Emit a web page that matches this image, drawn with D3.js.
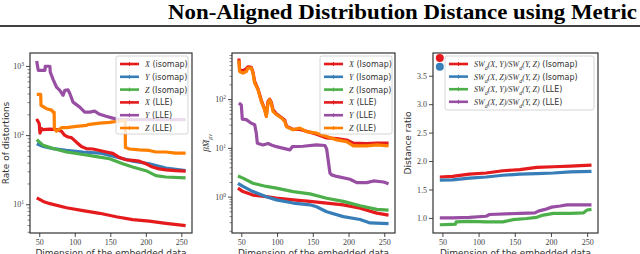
<!DOCTYPE html>
<html>
<head>
<meta charset="utf-8">
<script src="https://cdn.jsdelivr.net/npm/d3@7"></script>
<style>
  body { margin: 0; background: #fff; }
  svg { display: block; }
</style>
</head>
<body>
<svg width="640" height="254"></svg>
<script>
// colours (Set1)
const RED = '#e41a1c', BLUE = '#377eb8', GREEN = '#4daf4a', PURPLE = '#984ea3', ORANGE = '#ff7f00';

// panel 1 : rate of distortions  [dimension, value]
const p1XIsomap = [[46.5,12.4],[55.6,11.0],[65,10.2],[88.3,8.9],[111.5,8.1],[135,7.4],[158.3,6.6],[181.5,6.0],[204.8,5.7],[228.2,5.3],[256,4.9]];
const p1YIsomap = [[46.5,75],[55.6,68.5],[69.6,63.7],[88.3,60],[111.5,57],[135,55],[158.3,48.3],[181.5,42],[204.8,38.5],[228.2,33.3],[256,30.6]];
const p1ZIsomap = [[46.5,86],[55.6,71],[69.6,64],[88.3,57],[111.5,52.5],[135,48],[149,45.5],[167.5,38.5],[181.5,34.5],[200.2,30.6],[214.2,26],[228.2,24.8],[256,24]];
const p1XLle = [[46.5,160],[47.2,165],[50,146],[51,107],[53.4,124],[55.6,120],[65,122],[74.3,120],[81.3,114],[86,99],[90.6,94],[95.3,92],[102.3,79],[109.3,68.5],[116.3,63.7],[125.5,63],[135,60],[144.3,57],[153.5,54.4],[163,47.3],[172.2,44],[181.5,43],[190.8,42],[200.2,38.5],[209.4,34.5],[218.8,32.5],[228.2,31.5],[242,30.6],[256,30.2]];
const p1YLle = [[46.4,1181],[48.6,866],[58,866],[58.5,990],[65,990],[65.5,818],[69.6,635],[74.3,496],[79,445],[83.6,377],[86,445],[90.6,450],[93,400],[97.6,300],[107,254],[114,215],[121,215],[128,222],[135,200],[144,187],[153.5,176],[163,167],[205,167],[256,167]];
const p1ZLle = [[46.5,389],[52,389],[52.5,269],[60.3,241],[67.3,230],[69.6,215],[71,215],[71.3,124],[74.3,114],[81.3,128],[88.3,128],[102.3,134],[116.3,138],[118.5,142],[135,149],[149,153],[163,160],[171,163],[171.3,66],[177,63],[190.8,61],[204.8,60],[214.2,57],[228.2,57],[242,55],[256,55]];

// panel 2 : beta M_mu_nu
const p2XIsomap = [[45.3,1.5],[52.3,1.27],[66.3,1.08],[85,1.0],[99.1,0.93],[122.5,0.86],[146,0.80],[169.4,0.74],[192.7,0.68],[216.2,0.58],[239.6,0.46],[256,0.42]];
const p2YIsomap = [[45.3,1.88],[52.3,1.62],[66.3,1.27],[85,1.0],[99.1,0.86],[122.5,0.74],[146,0.68],[155.3,0.62],[169.4,0.49],[192.7,0.39],[216.2,0.34],[230.2,0.29],[256,0.28]];
const p2ZIsomap = [[45.3,2.66],[52.3,2.4],[66.3,1.88],[85,1.62],[99.1,1.5],[122.5,1.27],[146,1.14],[169.4,0.93],[192.7,0.80],[216.2,0.65],[239.6,0.55],[256,0.53]];
const p2XLle = [[46.7,680],[47.6,400],[52.3,380],[57,420],[59.3,460],[64,450],[66.3,360],[68.7,230],[73.4,160],[78,95],[82.7,62],[85,46],[87.4,90],[89.7,100],[92.1,85],[94.4,60],[99.1,50],[106.1,42],[110.8,37],[113.2,28],[122.5,24],[131.9,24],[141.2,22],[155.3,19],[169.4,16],[183.4,15.5],[197.4,14.5],[206.8,12.5],[225.5,12.3],[239.6,12.5],[256,12.5]];
const p2YLle = [[46.7,83],[50,76],[51.4,38.8],[57,38],[64,32],[68.7,30],[71,20],[72.4,12.5],[80.4,11.5],[87.4,12.3],[92.1,11.5],[99.1,10.6],[117.8,9.1],[121.6,10.6],[136.6,10.8],[155.3,11.5],[167,11.2],[169.4,9.5],[174,3.05],[176.4,2.8],[183.4,2.6],[202.1,2.28],[211.5,1.94],[225.5,1.94],[234.9,2.1],[249,2.0],[256,1.83]];
const p2ZLle = [[46.7,620],[47.6,369],[52.3,342],[57,369],[59.3,433],[64,433],[66.3,342],[68.7,213],[73.4,155],[78,89],[82.7,60],[85,44],[87.4,83],[89.7,97],[92.1,80],[94.4,56],[99.1,48],[106.1,41],[110.8,35],[113.2,27],[122.5,23.5],[131.9,25.4],[141.2,21.6],[155.3,20],[169.4,17.1],[183.4,14.6],[197.4,13.4],[206.8,11],[225.5,11],[239.6,11.5],[256,11]];

// panel 3 : distance ratio
const p3XYIsomap = [[46.4,1.72],[64,1.73],[87.2,1.77],[110.5,1.79],[133.7,1.83],[157,1.85],[180.3,1.89],[203.4,1.90],[226.7,1.91],[256,1.93]];
const p3XZIsomap = [[46.4,1.665],[64,1.67],[87.2,1.70],[110.5,1.72],[133.7,1.75],[157,1.77],[180.3,1.78],[203.4,1.79],[226.7,1.81],[256,1.82]];
const p3XYLle = [[46.4,0.88],[64,0.885],[68,0.89],[69,0.93],[87.2,0.94],[110.5,0.93],[133.7,0.93],[147.6,0.97],[166.3,0.99],[180.3,1.01],[189.5,1.05],[203.4,1.08],[226.7,1.08],[245,1.09],[250,1.14],[256,1.15]];
const p3XZLle = [[46.4,1.0],[64,1.0],[87.2,1.01],[110.5,1.03],[115,1.06],[157,1.08],[177.9,1.09],[182.5,1.12],[191.8,1.15],[201,1.19],[212.7,1.21],[222,1.23],[236,1.23],[256,1.23]];
const p3Outliers = [[46.4,3.81,RED],[46.4,3.66,BLUE]];

const xTicks = [50, 100, 150, 200, 250];
const p3YTicks = [1.0, 1.5, 2.0, 2.5, 3.0, 3.5];

const svg = d3.select('svg');
const serif = '"Liberation Serif", "DejaVu Serif", serif';
const sans = '"DejaVu Sans", sans-serif';

// header
svg.append('text')
  .attr('x', 637).attr('y', 19)
  .attr('text-anchor', 'end')
  .attr('textLength', 469).attr('lengthAdjust', 'spacingAndGlyphs')
  .style('font-family', serif).style('font-weight', 'bold').style('font-size', '21px')
  .text('Non-Aligned Distribution Distance using Metric');
svg.append('line').attr('x1', 0).attr('x2', 640).attr('y1', 26).attr('y2', 26)
  .attr('stroke', '#000').attr('stroke-width', 1.6);

function label(sel, parts) {
  parts.forEach(p => {
    const t = sel.append('tspan').text(p.t);
    if (p.i) t.style('font-style', 'italic').style('font-family', serif);
    if (p.sub) t.attr('baseline-shift', 'sub').style('font-size', '6px').style('font-style', 'italic').style('font-family', serif);
  });
}

function drawPanel(cfg) {
  const g = svg.append('g');
  const x = d3.scaleLinear().domain([37, 265]).range([cfg.left, cfg.right]);
  const y = cfg.log
    ? d3.scaleLog().domain(cfg.yDomain).range([cfg.bottom, cfg.top])
    : d3.scaleLinear().domain(cfg.yDomain).range([cfg.bottom, cfg.top]);

  const clipId = 'clip' + cfg.left;
  svg.append('clipPath').attr('id', clipId).append('rect')
    .attr('x', cfg.left).attr('y', cfg.top)
    .attr('width', cfg.right - cfg.left).attr('height', cfg.bottom - cfg.top);

  const line = d3.line().x(d => x(d[0])).y(d => y(d[1]));
  const plot = g.append('g').attr('clip-path', `url(#${clipId})`);
  cfg.series.forEach(s => {
    plot.append('path').datum(s.data)
      .attr('d', line)
      .attr('fill', 'none')
      .attr('stroke', s.color)
      .attr('stroke-width', 3.2)
      .attr('stroke-linejoin', 'round');
  });
  (cfg.dots || []).forEach(d => {
    plot.append('circle').attr('cx', x(d[0])).attr('cy', y(d[1])).attr('r', 4).attr('fill', d[2]);
  });

  // axes
  const xAxis = d3.axisBottom(x).tickValues(xTicks).tickSize(4).tickPadding(2).tickFormat(d3.format('d'));
  const gx = g.append('g').attr('transform', `translate(0,${cfg.bottom})`).call(xAxis);
  let gy;
  if (cfg.log) {
    const minor = [];
    const [lo, hi] = cfg.yDomain;
    for (let e = Math.floor(Math.log10(lo)); e <= Math.ceil(Math.log10(hi)); e++) {
      for (let m = 2; m <= 9; m++) {
        const v = m * Math.pow(10, e);
        if (v >= lo && v <= hi) minor.push(v);
      }
    }
    g.append('g').attr('transform', `translate(${cfg.left},0)`)
      .call(d3.axisLeft(y).tickValues(minor).tickSize(2.5).tickFormat(''))
      .call(a => a.select('.domain').remove())
      .selectAll('line').attr('stroke', '#333').attr('stroke-width', 0.6);
    gy = g.append('g').attr('transform', `translate(${cfg.left},0)`)
      .call(d3.axisLeft(y).tickValues(cfg.yTicks).tickSize(4).tickPadding(2).tickFormat(''));
    gy.selectAll('.tick text').each(function(d) {
      const t = d3.select(this);
      t.append('tspan').text('10');
      t.append('tspan').text(Math.round(Math.log10(d))).attr('dy', -3).style('font-size', '5.5px');
    });
  } else {
    gy = g.append('g').attr('transform', `translate(${cfg.left},0)`)
      .call(d3.axisLeft(y).tickValues(cfg.yTicks).tickSize(4).tickPadding(2).tickFormat(d3.format('.1f')));
  }
  [gx, gy].forEach(a => {
    a.select('.domain').remove();
    a.selectAll('line').attr('stroke', '#333').attr('stroke-width', 0.9);
    a.selectAll('text').style('font-family', serif).style('font-size', '8px').attr('fill', '#444');
  });

  g.append('rect')
    .attr('x', cfg.left).attr('y', cfg.top)
    .attr('width', cfg.right - cfg.left).attr('height', cfg.bottom - cfg.top)
    .attr('fill', 'none').attr('stroke', '#333').attr('stroke-width', 1.2);

  // axis labels (the page cuts them at the bottom edge, as in the source)
  g.append('text')
    .attr('x', (cfg.left + cfg.right) / 2).attr('y', 255.5)
    .attr('text-anchor', 'middle')
    .style('font-family', sans).style('font-size', '9px').attr('fill', '#333')
    .text('Dimension of the embedded data');
  const yl = g.append('text')
    .attr('transform', `translate(${cfg.yLabelX},${(cfg.top + cfg.bottom) / 2}) rotate(-90)`)
    .attr('text-anchor', 'middle')
    .style('font-family', sans).style('font-size', '9px').attr('fill', '#333');
  label(yl, cfg.yLabel);

  // legend
  const L = cfg.legend;
  g.append('rect')
    .attr('x', L.x).attr('y', L.y).attr('width', L.w).attr('height', L.h)
    .attr('rx', 2).attr('fill', '#fff').attr('fill-opacity', 0.8)
    .attr('stroke', '#ccc').attr('stroke-width', 0.8);
  cfg.series.forEach((s, i) => {
    const yy = L.y + 8 + i * L.step;
    g.append('line').attr('x1', L.x + 4).attr('x2', L.x + 4 + L.len)
      .attr('y1', yy).attr('y2', yy).attr('stroke', s.color).attr('stroke-width', 2.6);
    g.append('path')
      .attr('d', `M${L.x + 4 + L.len / 2 - 2},${yy}h4M${L.x + 4 + L.len / 2},${yy - 2}v4`)
      .attr('stroke', s.color).attr('stroke-width', 1);
    const t = g.append('text')
      .attr('x', L.x + 10 + L.len).attr('y', yy + 3)
      .style('font-family', sans).style('font-size', '8px').attr('fill', '#333');
    label(t, s.label);
  });
}

const isoLabel = (v, m) => [{ t: v, i: true }, { t: ' (' + m + ')' }];
const swLabel = (a, b, m) => [
  { t: 'SW', i: true }, { t: 'd', sub: true }, { t: '(' + a + ')/', i: true },
  { t: 'SW', i: true }, { t: 'd', sub: true }, { t: '(' + b + ')', i: true }, { t: ' (' + m + ')' }];

drawPanel({
  left: 30, right: 192, top: 53, bottom: 233, log: true,
  yDomain: [3.84, 1540], yTicks: [10, 100, 1000],
  yLabelX: 9, yLabel: [{ t: 'Rate of distortions' }],
  legend: { x: 116, y: 56, w: 72, h: 78, step: 12.8, len: 19 },
  series: [
    { data: p1XIsomap, color: RED, label: isoLabel('X', 'isomap') },
    { data: p1YIsomap, color: BLUE, label: isoLabel('Y', 'isomap') },
    { data: p1ZIsomap, color: GREEN, label: isoLabel('Z', 'Isomap') },
    { data: p1XLle, color: RED, label: isoLabel('X', 'LLE') },
    { data: p1YLle, color: PURPLE, label: isoLabel('Y', 'LLE') },
    { data: p1ZLle, color: ORANGE, label: isoLabel('Z', 'LLE') }
  ]
});

drawPanel({
  left: 232, right: 395, top: 53, bottom: 233, log: true,
  yDomain: [0.18, 881], yTicks: [1, 10, 100],
  yLabelX: 209, yLabel: [{ t: 'βM̃', i: true }, { t: 'μν', sub: true }],
  legend: { x: 320, y: 56, w: 72, h: 78, step: 12.8, len: 19 },
  series: [
    { data: p2XIsomap, color: RED, label: isoLabel('X', 'Isomap') },
    { data: p2YIsomap, color: BLUE, label: isoLabel('Y', 'Isomap') },
    { data: p2ZIsomap, color: GREEN, label: isoLabel('Z', 'Isomap') },
    { data: p2XLle, color: RED, label: isoLabel('X', 'LLE') },
    { data: p2YLle, color: PURPLE, label: isoLabel('Y', 'LLE') },
    { data: p2ZLle, color: ORANGE, label: isoLabel('Z', 'LLE') }
  ]
});

drawPanel({
  left: 433, right: 598, top: 53, bottom: 233, log: false,
  yDomain: [0.735, 3.9], yTicks: p3YTicks,
  yLabelX: 411, yLabel: [{ t: 'Distance ratio' }],
  legend: { x: 445, y: 56, w: 149, h: 54, step: 12.6, len: 19 },
  dots: p3Outliers,
  series: [
    { data: p3XYIsomap, color: RED, label: swLabel('X, Y', 'Y, Z', 'Isomap') },
    { data: p3XZIsomap, color: BLUE, label: swLabel('X, Z', 'Y, Z', 'Isomap') },
    { data: p3XYLle, color: GREEN, label: swLabel('X, Y', 'Y, Z', 'LLE') },
    { data: p3XZLle, color: PURPLE, label: swLabel('X, Z', 'Y, Z', 'LLE') }
  ]
});
</script>
</body>
</html>
